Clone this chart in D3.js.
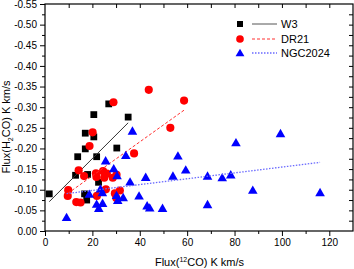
<!DOCTYPE html>
<html><head><meta charset="utf-8">
<script src="https://cdn.jsdelivr.net/npm/d3@7"></script>
<style>body{margin:0;background:#fff}svg{display:block}text{font-family:Arial,"Liberation Sans",sans-serif;fill:#000}</style>
</head><body><svg id="c" width="354" height="269"></svg>
<script>
// ---- data ----
const w3X=[1.8,12.9,13.8,17.0,17.0,20.6,20.6,26.9,21.8,30.3,35.1,18.0,22.6,16.7,17.6];
const w3Y=[-0.090,-0.135,-0.180,-0.199,-0.237,-0.228,-0.282,-0.308,-0.180,-0.201,-0.276,-0.137,-0.118,-0.090,-0.075];
const drX=[28.9,43.8,58.7,52.9,20.1,18.8,37.6,14.2,16.5,21.5,21.7,24.5,26.1,25.0,28.6,30.2,9.8,9.6,13.2,15.0,21.9,25.7,29.5,31.6,30.1];
const drY=[-0.312,-0.342,-0.316,-0.250,-0.239,-0.206,-0.188,-0.147,-0.133,-0.140,-0.131,-0.145,-0.139,-0.129,-0.129,-0.136,-0.099,-0.085,-0.070,-0.069,-0.085,-0.101,-0.091,-0.098,-0.080];
const ngX=[9.1,18.7,23.4,24.2,21.8,24.3,22.7,25.6,29.0,30.4,30.2,30.7,33.0,34.1,36.9,35.9,39.7,42.5,43.1,44.2,49.6,54.0,56.1,59.4,68.6,68.6,74.8,78.4,80.6,87.7,99.4,116.1];
const ngY=[-0.033,-0.089,-0.102,-0.093,-0.065,-0.067,-0.055,-0.170,-0.151,-0.134,-0.086,-0.074,-0.081,-0.183,-0.242,-0.119,-0.085,-0.130,-0.061,-0.056,-0.055,-0.133,-0.182,-0.148,-0.133,-0.064,-0.129,-0.136,-0.214,-0.099,-0.236,-0.093];
// linear fits: [intercept, slope]
const w3Fit=[-0.0607,-0.00574];
const drFit=[-0.0515,-0.00411];
const ngFit=[-0.0841,-0.000708];
const seriesNames=["W3","DR21","NGC2024"];
const xTicks=[0,20,40,60,80,100,120];
const yTicks=[0,-0.05,-0.10,-0.15,-0.20,-0.25,-0.30,-0.35,-0.40,-0.45,-0.50,-0.55];

// ---- chart ----
const svg=d3.select("#c");
const L=45,R=353,T=4,B=231;
const x=d3.scaleLinear().domain([0,130]).range([L,R]);
const y=d3.scaleLinear().domain([0,-0.55]).range([B,T]);
const fmtY=v=>Math.abs(v)<1e-9?"0.00":v.toFixed(2);

// bottom axis (outward)
const xMinor=d3.range(10,130,20);
const gx=svg.append("g").attr("transform",`translate(0,${B})`);
gx.call(d3.axisBottom(x).tickValues(xTicks).tickFormat(d3.format("d")).tickSize(5).tickPadding(3));
gx.append("g").call(d3.axisBottom(x).tickValues(xMinor).tickFormat("").tickSize(3));
// left axis (outward)
const yMinor=d3.range(1,22,2).map(i=>-0.025*i);
const gy=svg.append("g").attr("transform",`translate(${L},0)`);
gy.call(d3.axisLeft(y).tickValues(yTicks).tickFormat(fmtY).tickSize(5).tickPadding(3));
gy.append("g").call(d3.axisLeft(y).tickValues(yMinor).tickFormat("").tickSize(3));
// top axis (inward)
svg.append("g").attr("transform",`translate(0,${T})`)
  .call(d3.axisTop(x).tickValues(d3.range(10,130,10)).tickFormat("").tickSize(-4));
// right axis (inward)
svg.append("g").attr("transform",`translate(${R},0)`)
  .call(d3.axisRight(y).tickValues(d3.range(1,22).map(i=>-0.025*i)).tickFormat("").tickSize(-4));
svg.selectAll(".domain").remove();
svg.selectAll(".tick line").attr("stroke","#000").attr("stroke-width",1);
svg.selectAll(".tick text").attr("font-size",10).attr("font-family","Arial, 'Liberation Sans', sans-serif").attr("fill","#000");
svg.append("rect").attr("x",L).attr("y",T).attr("width",R-L).attr("height",B-T)
  .attr("fill","none").attr("stroke","#000").attr("stroke-width",1.2);

const plot=svg.append("g");
function fitLine(xs,fit,color,dash,width){
  const x0=d3.min(xs),x1=d3.max(xs);
  plot.append("line").attr("x1",x(x0)).attr("y1",y(fit[0]+fit[1]*x0))
    .attr("x2",x(x1)).attr("y2",y(fit[0]+fit[1]*x1))
    .attr("stroke",color).attr("stroke-width",width).attr("stroke-dasharray",dash);
}
const sq=d3.symbol().type(d3.symbolSquare).size(46);
const ci=d3.symbol().type(d3.symbolCircle).size(52);
const tr=d3.symbol().type(d3.symbolTriangle).size(40);

// W3
plot.selectAll(".w3").data(w3X).join("path").attr("d",sq)
  .attr("transform",(d,i)=>`translate(${x(d)},${y(w3Y[i])})`).attr("fill","#000");
fitLine(w3X,w3Fit,"#333",null,1);
// DR21
plot.selectAll(".dr").data(drX).join("path").attr("d",ci)
  .attr("transform",(d,i)=>`translate(${x(d)},${y(drY[i])})`).attr("fill","#ff0000");
fitLine(drX,drFit,"#ff3030","3,2",1);
// NGC2024
plot.selectAll(".ng").data(ngX).join("path").attr("d",tr)
  .attr("transform",(d,i)=>`translate(${x(d)},${y(ngY[i])+0.8})`).attr("fill","#0000ff");
fitLine(ngX,ngFit,"#6a6aff","1.5,1.5",1.3);

// legend
const lg=svg.append("g");
const rows=[24,39,53];
lg.append("path").attr("d",d3.symbol().type(d3.symbolSquare).size(36)).attr("transform",`translate(240,${rows[0]})`).attr("fill","#000");
lg.append("path").attr("d",d3.symbol().type(d3.symbolCircle).size(46)).attr("transform",`translate(240,${rows[1]})`).attr("fill","#ff0000");
lg.append("path").attr("d",d3.symbol().type(d3.symbolTriangle).size(34)).attr("transform",`translate(240,${rows[2]+0.8})`).attr("fill","#0000ff");
const lstyles=[["#555",null,1],["#ff3030","3,2",1],["#6a6aff","1.5,1.5",1.3]];
rows.forEach((ry,i)=>{
  lg.append("line").attr("x1",252).attr("x2",277).attr("y1",ry).attr("y2",ry)
    .attr("stroke",lstyles[i][0]).attr("stroke-dasharray",lstyles[i][1]).attr("stroke-width",lstyles[i][2]);
  lg.append("text").attr("x",281).attr("y",ry+4).attr("font-size",11).text(seriesNames[i]);
});

// axis titles
const xt=svg.append("text").attr("x",199.5).attr("y",266).attr("text-anchor","middle").attr("font-size",11);
xt.append("tspan").text("Flux(");
xt.append("tspan").attr("font-size",7).attr("dy",-4).text("12");
xt.append("tspan").attr("dy",4).text("CO) K km/s");
const yt=svg.append("text").attr("transform","translate(9.5,127) rotate(-90)").attr("text-anchor","middle").attr("font-size",11);
yt.append("tspan").text("Flux(H");
yt.append("tspan").attr("font-size",7).attr("dy",3).text("2");
yt.append("tspan").attr("dy",-3).text("CO) K km/s");
</script></body></html>
